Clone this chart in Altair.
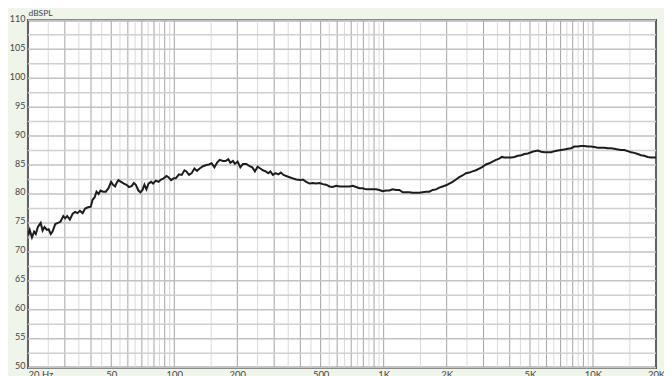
import altair as alt
import pandas as pd

# ---- data (frequency in Hz, level in dB SPL) ----
freq_hz = [
    20.0, 20.2, 20.4, 20.9, 21.4, 21.8, 22.3, 23.0, 23.5, 24.0, 24.6, 25.1, 25.7, 26.2,
    27.0, 27.8, 28.6, 29.5, 30.1, 30.8, 31.7, 32.7, 33.6, 34.5, 35.4, 36.5, 37.5, 38.7,
    39.9, 40.7, 41.6, 42.5, 43.5, 44.4, 45.7, 47.1, 48.5, 49.9, 51.0, 52.2, 53.0, 54.1,
    55.7, 57.4, 59.1, 60.8, 62.7, 64.1, 65.5, 67.4, 68.9, 70.5, 72.0, 73.6, 75.3, 77.5,
    79.2, 81.6, 84.0, 86.4, 89.0, 91.7, 93.8, 96.5, 99.4, 101.6,
    105.3, 108.5, 111.8, 114.2, 117.6, 121.1, 124.7, 128.4, 132.2, 137.1, 142.3, 146.4,
    150.8, 155.4, 159.9, 164.7, 170.8, 175.9, 181.2, 185.2, 190.6, 194.8, 200.7, 206.7,
    212.7, 220.8, 229.0, 235.9, 242.7, 250.0, 257.5, 265.0, 273.0, 281.2, 287.4, 295.7,
    304.6, 313.8, 322.9, 332.6, 342.6, 355.2, 368.3, 382.4, 399.5, 411.1, 426.7, 442.5,
    458.8, 476.3, 493.8, 512.1, 531.5, 551.2, 571.5, 593.2, 615.1, 637.8, 662.1, 686.5,
    711.9, 738.9, 766.2, 794.5, 824.7, 855.1, 886.7, 920.4, 954.4, 989.6, 1027, 1065,
    1104, 1146, 1189, 1233, 1280, 1327, 1376, 1428, 1481, 1535, 1594, 1653, 1714, 1779,
    1844, 1913, 1985, 2059, 2135, 2216, 2298, 2382, 2473, 2564, 2659, 2760, 2862, 2967,
    3080, 3194, 3312, 3438, 3565, 3672, 3778, 3922, 4067, 4217, 4377, 4539, 4706, 4885,
    5066, 5253, 5453, 5654, 5862, 6086, 6310, 6543, 6792, 7043, 7302, 7580, 7860, 8150,
    8460, 8772, 9096, 9442, 9790, 10152, 10538, 10928, 11330, 11762, 12196, 12646, 13128,
    13612, 14116, 14652, 15194, 15754, 16354, 16958, 17584, 18252, 18926, 19624, 20000,
]
spl_db = [
    73.6, 73.2, 73.8, 72.5, 73.5, 73.1, 74.3, 75.0, 73.7, 74.3, 73.8, 73.9, 73.1, 73.5,
    74.8, 75.0, 75.2, 76.2, 75.8, 76.2, 75.6, 76.6, 76.9, 76.7, 77.1, 76.7, 77.5, 77.7,
    77.8, 79.0, 79.4, 80.4, 80.0, 80.6, 80.4, 80.4, 81.0, 82.1, 81.6, 81.3, 81.9, 82.4,
    82.1, 81.8, 81.6, 81.2, 81.4, 81.9, 81.6, 80.6, 80.3, 80.7, 81.6, 80.8, 81.8, 82.1,
    81.8, 82.3, 82.1, 82.5, 82.7, 83.1, 82.9, 82.4, 82.7, 82.7,
    83.4, 83.3, 84.1, 83.9, 83.3, 83.6, 84.4, 84.0, 84.4, 84.8, 85.0, 85.1,
    85.3, 84.6, 85.4, 85.9, 85.7, 85.7, 86.0, 85.4, 85.7, 85.2, 85.6, 84.6,
    85.2, 85.2, 84.8, 84.6, 83.9, 84.7, 84.4, 84.1, 83.9, 83.6, 83.9, 83.3,
    83.6, 83.4, 83.7, 83.3, 83.1, 82.9, 82.7, 82.5, 82.4, 82.5, 82.1, 81.8,
    81.9, 81.8, 81.9, 81.7, 81.6, 81.3, 81.2, 81.4, 81.3, 81.3, 81.3, 81.3,
    81.4, 81.2, 81.0, 81.0, 80.8, 80.8, 80.8, 80.8, 80.7, 80.5, 80.6, 80.6,
    80.8, 80.7, 80.7, 80.3, 80.3, 80.3, 80.2, 80.2, 80.2, 80.3, 80.4, 80.4, 80.7, 80.8,
    81.1, 81.3, 81.5, 81.8, 82.1, 82.5, 82.9, 83.2, 83.6, 83.7, 83.9, 84.1, 84.4, 84.7,
    85.1, 85.3, 85.6, 85.9, 86.1, 86.4, 86.3, 86.3, 86.3, 86.4, 86.6, 86.7, 86.9, 87.0,
    87.2, 87.4, 87.5, 87.3, 87.2, 87.2, 87.2, 87.4, 87.5, 87.6, 87.7, 87.8, 87.9, 88.2,
    88.2, 88.3, 88.3, 88.2, 88.2, 88.1, 88.0, 88.0, 88.0, 87.9, 87.9, 87.8, 87.7,
    87.6, 87.6, 87.4, 87.2, 87.1, 86.9, 86.7, 86.6, 86.4, 86.3, 86.3, 86.3,
]

x_label_values = [20, 50, 100, 200, 500, 1000, 2000, 5000, 10000, 20000]
x_label_text = ["20 Hz", "50", "100", "200", "500", "1K", "2K", "5K", "10K", "20K"]
y_label_values = [50, 55, 60, 65, 70, 75, 80, 85, 90, 95, 100, 105, 110]
x_domain = [20, 20000]
y_domain = [50, 110]

# ---- grid lines: every 0.5 x decade, darker on whole multiples ----
vgrid = []
for dec in [10, 100, 1000, 10000]:
    for k in range(2, 20):
        f = k * 0.5 * dec
        if x_domain[0] <= f <= x_domain[1]:
            vgrid.append({"freq": f, "kind": "major" if k % 2 == 0 else "minor"})
hgrid = []
v = 50.0
while v <= 110.0:
    hgrid.append({"spl": v, "kind": "major" if v % 5 == 0 else "minor"})
    v += 2.5

curve = pd.DataFrame({"freq": freq_hz, "spl": spl_db})
vg = pd.DataFrame(vgrid)
hg = pd.DataFrame(hgrid)

label_expr = "''"
for val, txt in reversed(list(zip(x_label_values, x_label_text))):
    label_expr = f"datum.value == {val} ? '{txt}' : ({label_expr})"

xscale = alt.Scale(type="log", domain=x_domain, nice=False)
yscale = alt.Scale(domain=y_domain, nice=False, zero=False)

FONT = "Lato"

x_axis = alt.Axis(
    values=x_label_values, labelExpr=label_expr, ticks=False, domain=False, grid=False,
    labelFontSize=9.5, labelColor="#444444", labelPadding=2, labelFont=FONT,
    labelAlign={"condition": {"test": "datum.value <= 20", "value": "left"}, "value": "center"},
    labelFlush=False, labelOverlap=False, title=None,
)
y_axis = alt.Axis(
    values=y_label_values, ticks=False, domain=False, grid=False,
    labelFontSize=9, labelColor="#444444", labelPadding=3, labelFont=FONT,
    labelBaseline="alphabetic", labelOffset=1,
    title="dBSPL", titleAngle=0, titleX=0, titleY=-5, titleAlign="left",
    titleBaseline="alphabetic", titleFontSize=8.5, titleFontWeight="normal",
    titleColor="#444444", titleFont=FONT,
)

X = alt.X("freq:Q", scale=xscale, axis=x_axis)
Y = alt.Y("spl:Q", scale=yscale, axis=y_axis)

vrules = alt.Chart(vg).mark_rule(strokeWidth=1).encode(
    x=X,
    color=alt.Color("kind:N", scale=alt.Scale(domain=["major", "minor"], range=["#a4a4a4", "#dadada"]), legend=None),
)
hrules = alt.Chart(hg).mark_rule(strokeWidth=1.5).encode(
    y=Y,
    stroke=alt.Stroke("kind:N", scale=alt.Scale(domain=["major", "minor"], range=["#c2c2c2", "#d0d0d0"]), legend=None),
)
line = alt.Chart(curve).mark_line(color="#1c1c1c", strokeWidth=2, clip=True).encode(
    x=X,
    y=Y,
    order="freq:Q",
)

chart = alt.layer(vrules, hrules, line).resolve_scale(
    color="independent", stroke="independent"
).properties(
    width=629, height=348,
    padding={"left": 20, "top": 12, "right": 8, "bottom": 10},
    autosize=alt.AutoSizeParams(type="none"),
    background="#f0f5e9",
).configure_view(
    fill="white", stroke="#1e1e1e", strokeWidth=2,
)

chart.save("out.html", embed_options={"renderer": "svg", "actions": False})
